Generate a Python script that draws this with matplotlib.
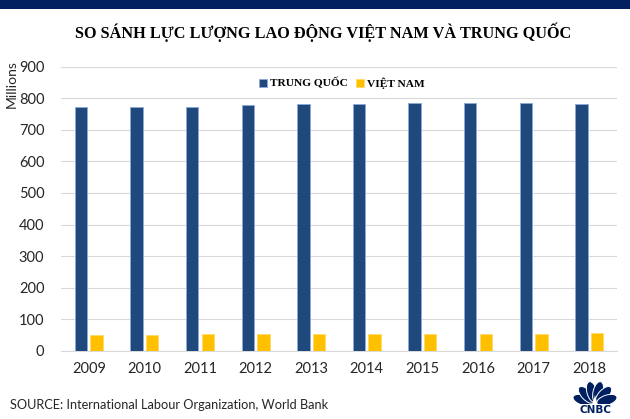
import numpy as np
import matplotlib.pyplot as plt
from matplotlib.patches import Ellipse, Rectangle, Polygon

years = ['2009', '2010', '2011', '2012', '2013', '2014', '2015', '2016', '2017', '2018']
trung_quoc = [771, 771, 774, 778, 781, 783, 784, 785, 784, 783]
viet_nam = [50, 50, 52, 52, 53, 53.5, 54, 54.3, 54.5, 55]

mau_cn = '#1f497d'
mau_vn = '#ffc000'
navy = '#002060'

fig = plt.figure(figsize=(6.3, 4.19), dpi=100)
fig.patch.set_facecolor('white')

# thanh ngang tren cung
fig.patches.append(Rectangle((0, 1 - 9 / 419), 1, 9 / 419, transform=fig.transFigure,
                             facecolor=navy, edgecolor='none'))

ax = fig.add_axes([61 / 630, 68.3 / 419, 556 / 630, 283.9 / 419])

x = np.arange(len(years))
w = 0.225
gap = 0.055
ax.bar(x - (w + gap) / 2, trung_quoc, w, color=mau_cn, edgecolor='#8ea9db', linewidth=0.6,
       label='TRUNG QUỐC', zorder=3)
ax.bar(x + (w + gap) / 2, viet_nam, w, color=mau_vn, edgecolor='#ffd966', linewidth=0.6,
       label='VIỆT NAM', zorder=3)

ax.set_xlim(-0.5, len(years) - 0.5)
ax.set_ylim(0, 900)
ax.set_yticks(range(0, 901, 100))
ax.set_xticks(x)
ax.set_xticklabels(years)
ax.grid(axis='y', color='#d9d9d9', linewidth=0.8, zorder=0)
for s in ['top', 'right', 'left']:
    ax.spines[s].set_visible(False)
ax.spines['bottom'].set_color('#d9d9d9')
ax.spines['bottom'].set_linewidth(0.8)
ax.tick_params(length=0, labelsize=10.5, colors='#262626')
ax.tick_params(axis='y', pad=12)
ax.tick_params(axis='x', pad=8)
for lab in ax.get_xticklabels() + ax.get_yticklabels():
    lab.set_fontfamily('Lato')

fig.text(12 / 630, 1 - 84 / 419, 'Millions', rotation=90, ha='center', va='center',
         fontsize=10, family='Lato', color='#262626')

leg = ax.legend(loc='upper center', bbox_to_anchor=(0.505, 1.0), ncol=2, frameon=False,
                prop={'family': 'Liberation Serif', 'weight': 'bold', 'size': 8.2},
                handlelength=0.7, handleheight=0.7, handletextpad=0.25, columnspacing=0.7)

fig.text(323 / 630, 1 - 32 / 419, 'SO SÁNH LỰC LƯỢNG LAO ĐỘNG VIỆT NAM VÀ TRUNG QUỐC',
         ha='center', va='center', fontsize=11.7, fontweight='bold', family='Liberation Serif',
         color='#000000')

fig.text(10 / 630, 1 - 405 / 419, 'SOURCE: International Labour Organization, World Bank',
         ha='left', va='center', fontsize=9.2, family='Lato', color='#262626')

# logo CNBC don gian (toa do pixel)
lg = fig.add_axes([570 / 630, 2 / 419, 50 / 630, 42 / 419])
lg.set_xlim(570, 620)
lg.set_ylim(417, 375)
lg.axis('off')
cx0, cy0 = 595, 404
for g in np.linspace(162, 18, 6):
    r = np.deg2rad(g)
    cx, cy = cx0 + 12.5 * np.cos(r), cy0 - 12.5 * np.sin(r)
    lg.add_patch(Ellipse((cx, cy), 21, 10, angle=-g, facecolor=navy, edgecolor='white',
                         linewidth=0.7))
lg.add_patch(Polygon([[592.5, 404], [597.5, 404], [595, 395]], closed=True,
                     facecolor='white', edgecolor='none'))
lg.add_patch(Rectangle((570, 403.5), 50, 4, facecolor='white', edgecolor='none'))
lg.text(595.5, 410, 'CNBC', ha='center', va='center', fontsize=7.5, fontweight='bold',
        family='DejaVu Sans', color=navy)

fig.savefig('out.png', dpi=100)
